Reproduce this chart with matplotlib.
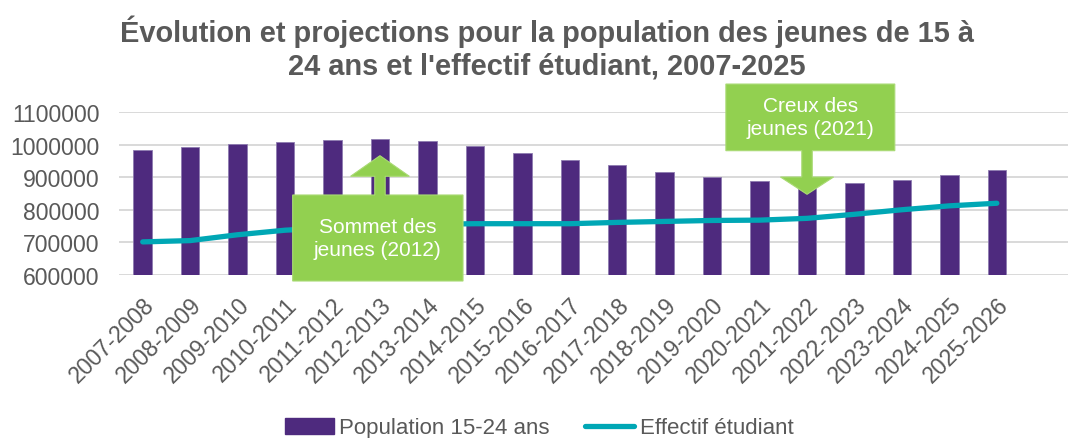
import matplotlib
matplotlib.use("Agg")
import matplotlib.pyplot as plt
from matplotlib.patches import Polygon
from matplotlib.lines import Line2D
from matplotlib.patches import Patch

plt.rcParams['font.family'] = ['Liberation Sans', 'DejaVu Sans']

categories = ["2007-2008", "2008-2009", "2009-2010", "2010-2011", "2011-2012",
              "2012-2013", "2013-2014", "2014-2015", "2015-2016", "2016-2017",
              "2017-2018", "2018-2019", "2019-2020", "2020-2021", "2021-2022",
              "2022-2023", "2023-2024", "2024-2025", "2025-2026"]
population = [984000, 993000, 1002000, 1010000, 1015500, 1017000, 1010500, 996000,
              973500, 953000, 937000, 916000, 900000, 887500, 878000, 881000,
              892000, 906000, 922000]
effectif = [701000, 705000, 723000, 737000, 745000, 751000, 755000, 757000,
            757000, 757000, 761000, 764000, 767000, 768000, 773500, 786000,
            800000, 812000, 820000]
yticks = [600000, 700000, 800000, 900000, 1000000, 1100000]

title = "Évolution et projections pour la population des jeunes de 15 à\n24 ans et l'effectif étudiant, 2007-2025"
grey = "#595959"
purple = "#4E2A7E"
teal = "#00A7B5"
green = "#92D050"

fig = plt.figure(figsize=(10.75, 4.39), dpi=100)
ax = fig.add_axes([119/1075, (439-275.7)/439, (1068-119)/1075, 162.4/439])

x = list(range(len(categories)))
ax.bar(x, population, width=0.39, color=purple, edgecolor="#8E7BB0", linewidth=0.6, zorder=2)
ax.plot(x, effectif, color=teal, lw=3.8, solid_capstyle='round', zorder=3)

ax.set_ylim(600000, 1100000)
ax.set_xlim(-0.5, 19.5)
ax.set_yticks(yticks)
ax.set_yticklabels([str(v) for v in yticks], fontsize=16.6, color=grey)
ax.set_xticks(x)
ax.set_xticklabels(categories, rotation=45, ha='right', rotation_mode='anchor',
                   fontsize=16.6, color=grey)
ax.tick_params(axis='both', length=0)
ax.tick_params(axis='y', pad=14)
ax.tick_params(axis='x', pad=13)
for s in ax.spines.values():
    s.set_visible(False)
ax.grid(axis='y', color="#D9D9D9", lw=1.4, zorder=0)
ax.set_axisbelow(True)

# Callout "Sommet" (arrow up)
xc = 5.0
box_l, box_r, box_b, box_t = 3.16, 6.75, 580600, 845400
stem_hw, head_hw = 0.11, 0.62
head_base, tip = 903000, 966400
poly = [(box_l, box_b), (box_r, box_b), (box_r, box_t), (xc + stem_hw, box_t),
        (xc + stem_hw, head_base), (xc + head_hw, head_base), (xc, tip),
        (xc - head_hw, head_base), (xc - stem_hw, head_base), (xc - stem_hw, box_t),
        (box_l, box_t)]
ax.add_patch(Polygon(poly, closed=True, facecolor=green, edgecolor='#A9DA74', lw=0.8,
                     zorder=5, clip_on=False))
ax.text((box_l + box_r) / 2, (box_b + box_t) / 2, "Sommet des\njeunes (2012)",
        ha='center', va='center', color='white', fontsize=15, zorder=6,
        linespacing=1.25)

# Callout "Creux" (arrow down)
xc = 14.0
box_l, box_r, box_b, box_t = 12.29, 15.85, 981800, 1187000
head_base, tip = 900800, 847500
stem_hw, head_hw = 0.11, 0.56
poly = [(box_l, box_t), (box_r, box_t), (box_r, box_b), (xc + stem_hw, box_b),
        (xc + stem_hw, head_base), (xc + head_hw, head_base), (xc, tip),
        (xc - head_hw, head_base), (xc - stem_hw, head_base), (xc - stem_hw, box_b),
        (box_l, box_b)]
ax.add_patch(Polygon(poly, closed=True, facecolor=green, edgecolor='#A9DA74', lw=0.8,
                     zorder=5, clip_on=False))
ax.text((box_l + box_r) / 2, (box_b + box_t) / 2, "Creux des\njeunes (2021)",
        ha='center', va='center', color='white', fontsize=15, zorder=6,
        linespacing=1.25)

fig.text(547/1075, 1 - 48/439, title, ha='center', va='center', fontsize=20.9,
         fontweight='bold', color=grey, linespacing=1.18)

handles = [Patch(facecolor=purple, edgecolor=purple),
           Line2D([0], [0], color=teal, lw=3.8, solid_capstyle='round')]
fig.legend(handles, ["Population 15-24 ans", "Effectif étudiant"],
           loc='center', bbox_to_anchor=(0.5015, 10/439), ncol=2, frameon=False,
           fontsize=16, labelcolor=grey, handlelength=2.2, handletextpad=0.25,
           columnspacing=1.6, borderaxespad=0)

fig.savefig("out.png", dpi=100)
